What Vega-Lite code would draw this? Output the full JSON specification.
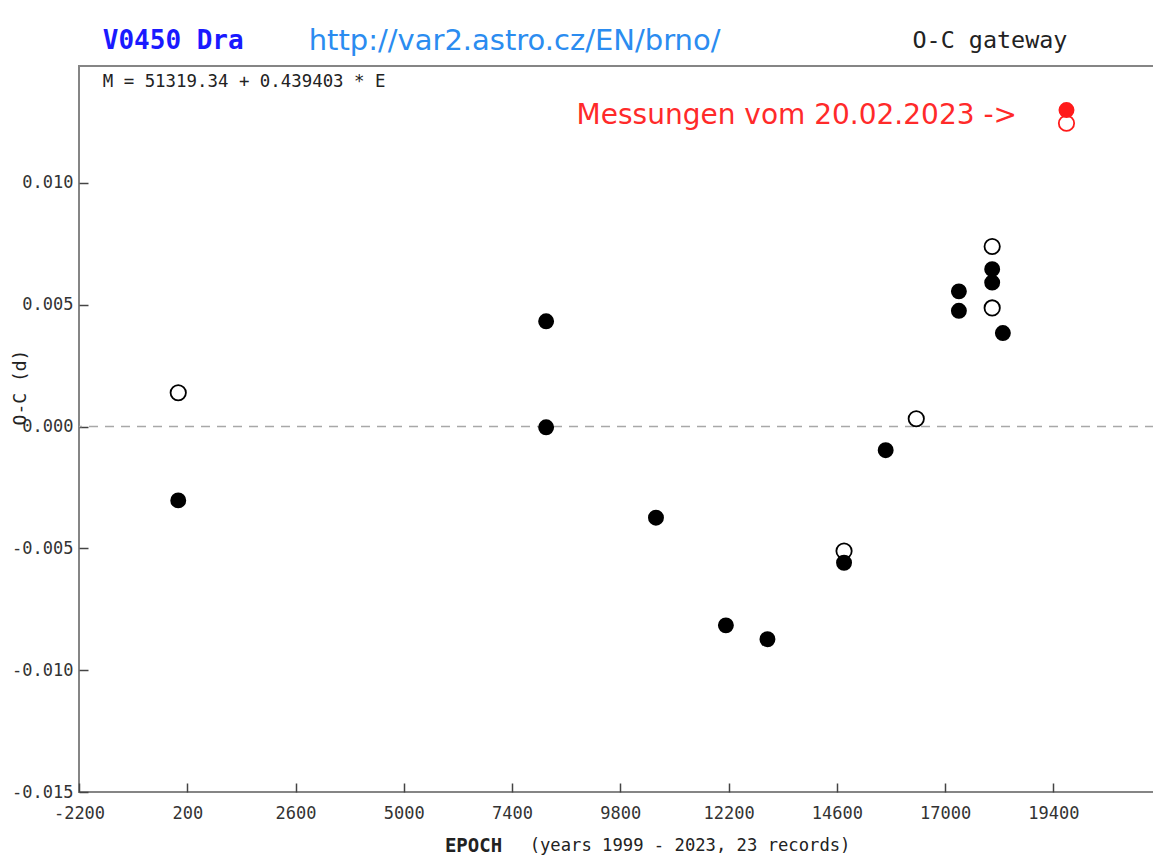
{
  "$schema": "https://vega.github.io/schema/vega-lite/v6.json",
  "width": 1075,
  "height": 726,
  "autosize": {"type": "none"},
  "padding": {"left": 79, "top": 66, "right": 0, "bottom": 64},
  "background": "white",
  "config": {
    "view": {"stroke": "#858585", "strokeWidth": 2},
    "locale": {"number": {"decimal": ".", "thousands": "", "grouping": [3], "currency": ["", ""], "minus": "-"}}
  },
  "datasets": {
    "minima": [
      {"epoch": 0, "oc": -0.00303, "kind": "filled", "source": "archive"},
      {"epoch": 8155, "oc": 0.00432, "kind": "filled", "source": "archive"},
      {"epoch": 8155, "oc": -0.00003, "kind": "filled", "source": "archive"},
      {"epoch": 10590, "oc": -0.00374, "kind": "filled", "source": "archive"},
      {"epoch": 12140, "oc": -0.00816, "kind": "filled", "source": "archive"},
      {"epoch": 13061, "oc": -0.00873, "kind": "filled", "source": "archive"},
      {"epoch": 14759, "oc": -0.00559, "kind": "filled", "source": "archive"},
      {"epoch": 15682, "oc": -0.00097, "kind": "filled", "source": "archive"},
      {"epoch": 17305, "oc": 0.00555, "kind": "filled", "source": "archive"},
      {"epoch": 17305, "oc": 0.00475, "kind": "filled", "source": "archive"},
      {"epoch": 18043, "oc": 0.00646, "kind": "filled", "source": "archive"},
      {"epoch": 18043, "oc": 0.00591, "kind": "filled", "source": "archive"},
      {"epoch": 18280, "oc": 0.00384, "kind": "filled", "source": "archive"},
      {"epoch": 0, "oc": 0.00139, "kind": "open", "source": "archive"},
      {"epoch": 14759, "oc": -0.00511, "kind": "open", "source": "archive"},
      {"epoch": 16360, "oc": 0.00032, "kind": "open", "source": "archive"},
      {"epoch": 18043, "oc": 0.00739, "kind": "open", "source": "archive"},
      {"epoch": 18043, "oc": 0.00487, "kind": "open", "source": "archive"},
      {"epoch": 19690, "oc": 0.01299, "kind": "filled", "source": "20.02.2023"},
      {"epoch": 19690, "oc": 0.01245, "kind": "open", "source": "20.02.2023"}
    ]
  },
  "layer": [
    {
      "data": {"values": [{"label": "zero"}]},
      "mark": {"type": "rule", "color": "#a8a8a8", "strokeWidth": 1.5, "strokeDash": [9, 7]},
      "encoding": {"y": {"datum": 0}}
    },
    {
      "data": {"name": "minima"},
      "transform": [{"filter": "datum.kind === 'open'"}],
      "mark": {"type": "point", "shape": "circle", "filled": false, "fill": "white", "fillOpacity": 1, "size": 235, "strokeWidth": 1.8, "opacity": 1},
      "encoding": {
        "x": {
          "field": "epoch", "type": "quantitative",
          "scale": {"domain": [-2200, 21630], "nice": false, "zero": false},
          "axis": {
            "values": [-2200, 200, 2600, 5000, 7400, 9800, 12200, 14600, 17000, 19400],
            "format": "d", "domain": false, "grid": false,
            "tickSize": -9, "tickColor": "#444444", "tickWidth": 1.5,
            "labelFont": "DejaVu Sans Mono", "labelFontSize": 17, "labelColor": "#333333",
            "labelPadding": 22, "labelFlush": false,
            "title": "EPOCH", "titleFont": "DejaVu Sans Mono", "titleFontSize": 19, "titleFontWeight": "bold",
            "titleColor": "#222222", "titleX": 394, "titleY": 53, "titleAlign": "center", "titleBaseline": "middle"
          }
        },
        "y": {
          "field": "oc", "type": "quantitative",
          "scale": {"domain": [-0.015, 0.0148], "nice": false, "zero": false},
          "axis": {
            "values": [-0.015, -0.01, -0.005, 0, 0.005, 0.01],
            "format": ".3f", "domain": false, "grid": false,
            "tickSize": -9, "tickColor": "#444444", "tickWidth": 1.5,
            "labelFont": "DejaVu Sans Mono", "labelFontSize": 17, "labelColor": "#333333",
            "labelPadding": 15,
            "title": "O-C (d)", "titleFont": "DejaVu Sans Mono", "titleFontSize": 18, "titleFontWeight": "normal",
            "titleColor": "#222222", "titleAngle": 270, "titleX": -59, "titleY": 321, "titleAlign": "center", "titleBaseline": "middle"
          }
        },
        "stroke": {
          "field": "source", "type": "nominal",
          "scale": {"domain": ["archive", "20.02.2023"], "range": ["#000000", "#ff1a1a"]},
          "legend": null
        }
      }
    },
    {
      "data": {"name": "minima"},
      "transform": [{"filter": "datum.kind === 'filled'"}],
      "mark": {"type": "point", "shape": "circle", "filled": true, "size": 254, "opacity": 1, "strokeWidth": 0},
      "encoding": {
        "x": {"field": "epoch", "type": "quantitative"},
        "y": {"field": "oc", "type": "quantitative"},
        "fill": {
          "field": "source", "type": "nominal",
          "scale": {"domain": ["archive", "20.02.2023"], "range": ["#000000", "#ff1a1a"]},
          "legend": null
        }
      }
    },
    {
      "data": {"values": [{"label": "V0450 Dra"}]},
      "mark": {"type": "text", "align": "left", "baseline": "middle", "font": "DejaVu Sans Mono", "fontSize": 26, "fontWeight": "bold", "color": "#1a1aff"},
      "encoding": {"x": {"datum": -1673}, "y": {"datum": 0.01582}, "text": {"field": "label"}}
    },
    {
      "data": {"values": [{"label": "http://var2.astro.cz/EN/brno/"}]},
      "mark": {"type": "text", "align": "left", "baseline": "middle", "font": "DejaVu Sans", "fontSize": 29, "color": "#2b8cf0"},
      "encoding": {"x": {"datum": 2892}, "y": {"datum": 0.01582}, "text": {"field": "label"}}
    },
    {
      "data": {"values": [{"label": "O-C gateway"}]},
      "mark": {"type": "text", "align": "left", "baseline": "middle", "font": "DejaVu Sans Mono", "fontSize": 23.4, "color": "#222222"},
      "encoding": {"x": {"datum": 16277}, "y": {"datum": 0.01582}, "text": {"field": "label"}}
    },
    {
      "data": {"values": [{"label": "M = 51319.34 + 0.439403 * E"}]},
      "mark": {"type": "text", "align": "left", "baseline": "middle", "font": "DejaVu Sans Mono", "fontSize": 17.4, "color": "#222222"},
      "encoding": {"x": {"datum": -1673}, "y": {"datum": 0.01415}, "text": {"field": "label"}}
    },
    {
      "data": {"values": [{"label": "Messungen vom 20.02.2023 ->"}]},
      "mark": {"type": "text", "align": "left", "baseline": "middle", "font": "DejaVu Sans", "fontSize": 28, "color": "#ff2a2a"},
      "encoding": {"x": {"datum": 8831}, "y": {"datum": 0.01275}, "text": {"field": "label"}}
    },
    {
      "data": {"values": [{"label": "(years 1999 - 2023, 23 records)"}]},
      "mark": {"type": "text", "align": "left", "baseline": "middle", "font": "DejaVu Sans Mono", "fontSize": 17.2, "color": "#222222"},
      "encoding": {"x": {"datum": 7790}, "y": {"datum": -0.01722}, "text": {"field": "label"}}
    }
  ]
}
